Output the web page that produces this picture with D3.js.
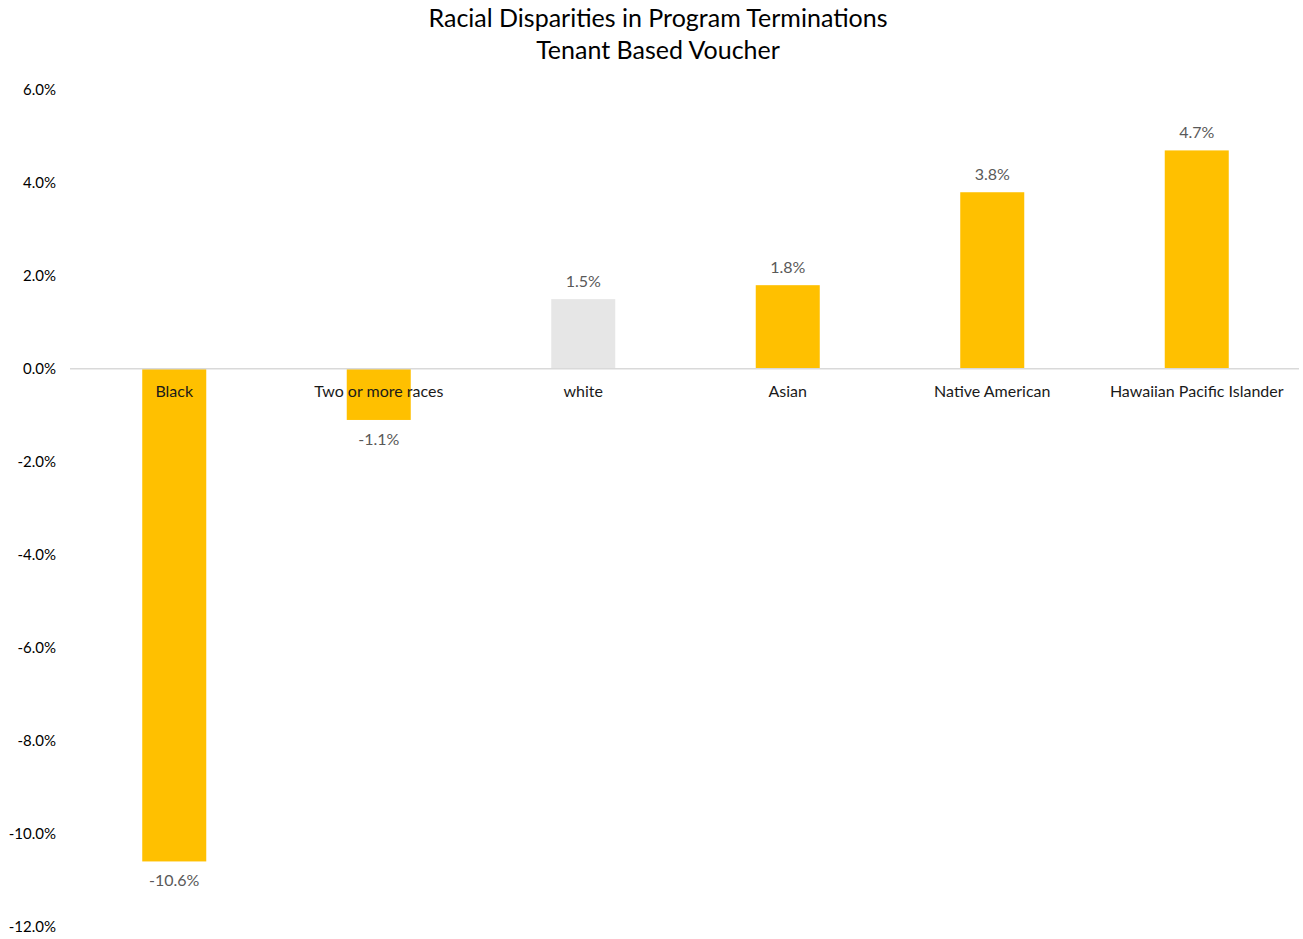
<!DOCTYPE html>
<html>
<head>
<meta charset="utf-8">
<script src="https://cdn.jsdelivr.net/npm/d3@7"></script>
<style>
  html, body { margin: 0; padding: 0; background: #fff; }
  svg { display: block; font-family: Lato, "Open Sans", sans-serif; }
</style>
</head>
<body>
<svg id="chart" width="1303" height="939"></svg>
<script>
// Disparity in program terminations by race (percentage points)
const categories = ["Black", "Two or more races", "white", "Asian", "Native American", "Hawaiian Pacific Islander"];
const values = [-10.6, -1.1, 1.5, 1.8, 3.8, 4.7];
const barColors = ["#FFC000", "#FFC000", "#E6E6E6", "#FFC000", "#FFC000", "#FFC000"];
const yTicks = [6, 4, 2, 0, -2, -4, -6, -8, -10, -12];
const titleLines = ["Racial Disparities in Program Terminations", "Tenant Based Voucher"];

const svg = d3.select("#chart");
const margin = { left: 72, right: 4, top: 90, bottom: 13 };
const W = 1303, H = 939;

// Percent format with a plain hyphen for negatives
const pct = d => d3.format(".1f")(d).replace("\u2212", "-") + "%";

const x = d3.scaleBand()
  .domain(categories)
  .range([margin.left, W - margin.right])
  .paddingInner(0.687)
  .paddingOuter(0.3435);

const y = d3.scaleLinear()
  .domain([-12, 6])
  .range([926.5, 90]);

// Title
svg.append("g").selectAll("text")
  .data(titleLines)
  .join("text")
  .attr("x", 658)
  .attr("y", (d, i) => 27 + i * 32)
  .attr("text-anchor", "middle")
  .attr("font-size", 25)
  .attr("fill", "#000")
  .text(d => d);

// Y axis labels (no axis line, no tick marks)
const yAxis = svg.append("g")
  .attr("transform", `translate(${margin.left},0)`)
  .call(d3.axisLeft(y).tickValues(yTicks).tickSize(0).tickPadding(16)
    .tickFormat(pct));
yAxis.select(".domain").remove();
yAxis.selectAll("text")
  .attr("font-family", "Lato, 'Open Sans', sans-serif")
  .attr("font-size", 15)
  .attr("fill", "#000");

// Bars
svg.append("g").selectAll("rect")
  .data(values)
  .join("rect")
  .attr("x", (d, i) => x(categories[i]))
  .attr("width", x.bandwidth())
  .attr("y", d => y(Math.max(0, d)))
  .attr("height", d => Math.abs(y(d) - y(0)))
  .attr("fill", (d, i) => barColors[i]);

// Zero baseline
svg.append("line")
  .attr("x1", margin.left - 2)
  .attr("x2", W - margin.right)
  .attr("y1", y(0))
  .attr("y2", y(0))
  .attr("stroke", "#D9D9D9")
  .attr("stroke-width", 1.5);

// Category labels just below the baseline
svg.append("g").selectAll("text")
  .data(categories)
  .join("text")
  .attr("x", d => x(d) + x.bandwidth() / 2)
  .attr("y", y(0) + 28)
  .attr("text-anchor", "middle")
  .attr("font-size", 16)
  .attr("fill", "#1a1a1a")
  .text(d => d);

// Value labels
svg.append("g").selectAll("text")
  .data(values)
  .join("text")
  .attr("x", (d, i) => x(categories[i]) + x.bandwidth() / 2)
  .attr("y", d => d >= 0 ? y(d) - 12 : y(d) + 25)
  .attr("text-anchor", "middle")
  .attr("font-size", 16)
  .attr("fill", "#595959")
  .text(pct);
</script>
</body>
</html>
